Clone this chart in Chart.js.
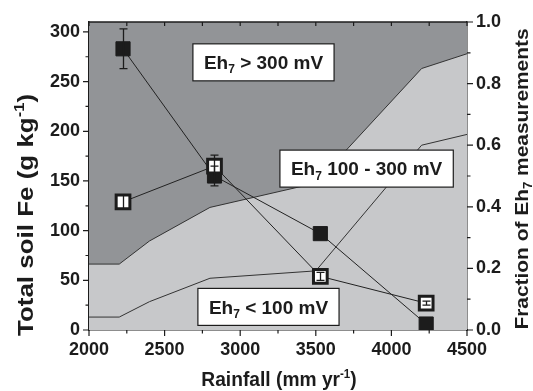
<!DOCTYPE html>
<html>
<head>
<meta charset="utf-8">
<script src="https://cdn.jsdelivr.net/npm/chart.js@4.4.0/dist/chart.umd.min.js"></script>
<style>
  html, body { margin: 0; padding: 0; background: #fff; }
  #wrap { width: 533px; height: 391px; }
</style>
</head>
<body>
<div id="wrap"><canvas id="grafico"></canvas></div>
<script>
const FONT = '"Liberation Sans", Arial, sans-serif';

// measured soil Fe at each site
const rainfall = [2225, 2830, 3530, 4230];
const feFilled = [283, 155, 97, 6];
const feFilledErr = [20, 10, 0, 0];
const feOpen = [129, 165, 54, 27];
const feOpenErr = [7, 11, 4, 2];

// Eh7 zone edges (fraction of measurements)
const zoneX = [2000, 2200, 2400, 2800, 3500, 4200, 4500];
const fracLow = [0.042, 0.042, 0.092, 0.168, 0.192, 0.600, 0.635];
const fracMid = [0.214, 0.214, 0.289, 0.398, 0.477, 0.849, 0.897];

// tick labels
const xTicks = [2000, 2500, 3000, 3500, 4000, 4500];
const feTicks = [0, 50, 100, 150, 200, 250, 300];
const fracTicks = [0, 0.2, 0.4, 0.6, 0.8, 1.0];

// zone labels, placed in data units (x = rainfall, y = fraction)
const zoneLabels = [
  [["Eh", 0], ["7", -1], [" > 300 mV", 0]],
  [["Eh", 0], ["7", -1], [" 100 - 300 mV", 0]],
  [["Eh", 0], ["7", -1], [" < 100 mV", 0]]
];
const zoneLabelX = [3154, 3836, 3187];
const zoneLabelY = [0.869, 0.524, 0.075];

const DARK = "#929497";
const LIGHT = "#c7c8ca";
const INK = "#1c1c1c";

function richWidth(ctx, parts, size) {
  const small = Math.round(size * 0.62);
  let w = 0;
  parts.forEach(p => {
    ctx.font = `bold ${p[1] ? small : size}px ${FONT}`;
    w += ctx.measureText(p[0]).width;
  });
  return w;
}

function drawRich(ctx, parts, size, cx, cy, rot, stretch) {
  ctx.save();
  ctx.translate(cx, cy);
  ctx.rotate(rot);
  ctx.scale(stretch, 1);
  const small = Math.round(size * 0.62);
  let x = -richWidth(ctx, parts, size) / 2;
  ctx.textBaseline = "alphabetic";
  ctx.textAlign = "left";
  ctx.fillStyle = INK;
  parts.forEach(p => {
    ctx.font = `bold ${p[1] ? small : size}px ${FONT}`;
    const dy = p[1] === 1 ? -size * 0.4 : p[1] === -1 ? size * 0.22 : 0;
    ctx.fillText(p[0], x, size * 0.358 + dy);
    x += ctx.measureText(p[0]).width;
  });
  ctx.restore();
}

const decoraciones = {
  id: "decoraciones",
  beforeDatasetsDraw(chart) {
    const { ctx, chartArea: a } = chart;
    ctx.save();
    ctx.fillStyle = DARK;
    ctx.fillRect(a.left, a.top, a.right - a.left, a.bottom - a.top);
    ctx.restore();
  },
  afterDatasetsDraw(chart) {
    const { ctx, scales } = chart;
    const x = scales.x, y = scales.y, y1 = scales.y1;
    // error bars
    ctx.save();
    ctx.strokeStyle = INK;
    ctx.lineWidth = 1.3;
    const barras = (vals, errs) => {
      vals.forEach((v, i) => {
        if (!errs[i]) return;
        const px = Math.round(x.getPixelForValue(rainfall[i])) + 0.5;
        const lo = y.getPixelForValue(v - errs[i]);
        const hi = y.getPixelForValue(v + errs[i]);
        ctx.beginPath();
        ctx.moveTo(px, lo); ctx.lineTo(px, hi);
        ctx.moveTo(px - 4, lo); ctx.lineTo(px + 4, lo);
        ctx.moveTo(px - 4, hi); ctx.lineTo(px + 4, hi);
        ctx.stroke();
      });
    };
    barras(feFilled, feFilledErr);
    barras(feOpen, feOpenErr);
    ctx.restore();
    // zone label boxes
    zoneLabels.forEach((parts, i) => {
      const cx = x.getPixelForValue(zoneLabelX[i]);
      const cy = y1.getPixelForValue(zoneLabelY[i]);
      const w = richWidth(ctx, parts, 19) + 22;
      const h = 37;
      ctx.save();
      ctx.fillStyle = "#fff";
      ctx.strokeStyle = INK;
      ctx.lineWidth = 1.2;
      ctx.fillRect(cx - w / 2, cy - h / 2, w, h);
      ctx.strokeRect(cx - w / 2, cy - h / 2, w, h);
      ctx.restore();
      drawRich(ctx, parts, 19, cx, cy, 0, 1);
    });
  },
  afterDraw(chart) {
    const { ctx, chartArea: a, scales } = chart;
    const x = scales.x, y = scales.y, y1 = scales.y1;
    ctx.save();
    ctx.strokeStyle = INK;
    ctx.lineWidth = 1.5;
    // top border
    ctx.beginPath();
    ctx.moveTo(a.left, a.top); ctx.lineTo(a.right, a.top);
    ctx.stroke();
    ctx.lineWidth = 1.2;
    ctx.beginPath();
    for (let v = 2000; v <= 4500; v += 250) {
      const px = x.getPixelForValue(v);
      const len = v % 500 === 0 ? 6 : 3.5;
      ctx.moveTo(px, a.bottom); ctx.lineTo(px, a.bottom + len);
      ctx.moveTo(px, a.top); ctx.lineTo(px, a.top + 4);
    }
    for (let v = 0; v <= 300; v += 25) {
      const py = y.getPixelForValue(v);
      const len = v % 50 === 0 ? 6 : 3.5;
      ctx.moveTo(a.left, py); ctx.lineTo(a.left - len, py);
    }
    for (let k = 0; k <= 10; k++) {
      const py = y1.getPixelForValue(k / 10);
      const len = k % 2 === 0 ? 6 : 3.5;
      ctx.moveTo(a.right, py); ctx.lineTo(a.right + len, py);
    }
    ctx.stroke();
    ctx.restore();
    // axis titles
    drawRich(ctx, [["Total soil Fe (g kg", 0], ["-1", 1], [")", 0]], 22, 25, 215, -Math.PI / 2, 1.18);
    drawRich(ctx, [["Fraction of Eh", 0], ["7", -1], [" measurements", 0]], 19, 521.5, 179, -Math.PI / 2, 1.1);
    drawRich(ctx, [["Rainfall (mm yr", 0], ["-1", 1], [")", 0]], 20, 279, 379, 0, 0.96);
  }
};

const tickFont = { family: FONT, size: 18, weight: "bold" };
const fijarTicks = vals => s => { s.ticks = vals.map(v => ({ value: v })); };

new Chart(document.getElementById("grafico"), {
  type: "line",
  data: {
    datasets: [
      {
        label: "open",
        data: rainfall.map((r, i) => ({ x: r, y: feOpen[i] })),
        yAxisID: "y",
        borderColor: "#222",
        borderWidth: 1,
        pointStyle: "rect",
        pointRadius: 9.7,
        pointBackgroundColor: "#fff",
        pointBorderColor: INK,
        pointBorderWidth: 3,
        order: 0
      },
      {
        label: "filled",
        data: rainfall.map((r, i) => ({ x: r, y: feFilled[i] })),
        yAxisID: "y",
        borderColor: "#222",
        borderWidth: 1,
        pointStyle: "rect",
        pointRadius: 10,
        pointBackgroundColor: INK,
        pointBorderColor: INK,
        pointBorderWidth: 1,
        order: 1
      },
      {
        label: "low",
        data: zoneX.map((r, i) => ({ x: r, y: fracLow[i] })),
        yAxisID: "y1",
        borderColor: "#333",
        borderWidth: 1,
        pointRadius: 0,
        fill: false,
        order: 2
      },
      {
        label: "mid",
        data: zoneX.map((r, i) => ({ x: r, y: fracMid[i] })),
        yAxisID: "y1",
        borderColor: "#333",
        borderWidth: 1,
        pointRadius: 0,
        fill: "origin",
        backgroundColor: LIGHT,
        order: 3
      }
    ]
  },
  options: {
    responsive: true,
    maintainAspectRatio: false,
    animation: false,
    devicePixelRatio: 1,
    layout: { padding: { top: 22, left: 0, right: 0, bottom: 0 } },
    plugins: {
      legend: { display: false },
      tooltip: { enabled: false }
    },
    scales: {
      x: {
        type: "linear",
        min: 2000,
        max: 4500,
        afterBuildTicks: fijarTicks(xTicks),
        ticks: { font: tickFont, color: INK, padding: 9, maxRotation: 0, callback: v => String(v) },
        grid: { display: false, drawTicks: false },
        border: { display: true, color: INK, width: 1.5 },
        afterFit(s) { s.height = 61; }
      },
      y: {
        position: "left",
        min: 0,
        max: 310,
        afterBuildTicks: fijarTicks(feTicks),
        ticks: { font: tickFont, color: INK, padding: 9, callback: v => String(v) },
        grid: { display: false, drawTicks: false },
        border: { display: true, color: INK, width: 1.5 },
        afterFit(s) { s.width = 89; }
      },
      y1: {
        position: "right",
        min: 0,
        max: 1,
        afterBuildTicks: fijarTicks(fracTicks),
        ticks: { font: tickFont, color: INK, padding: 9, callback: v => v.toFixed(1) },
        grid: { display: false, drawTicks: false },
        border: { display: true, color: INK, width: 1.5 },
        afterFit(s) { s.width = 66; }
      }
    }
  },
  plugins: [decoraciones]
});
</script>
</body>
</html>
